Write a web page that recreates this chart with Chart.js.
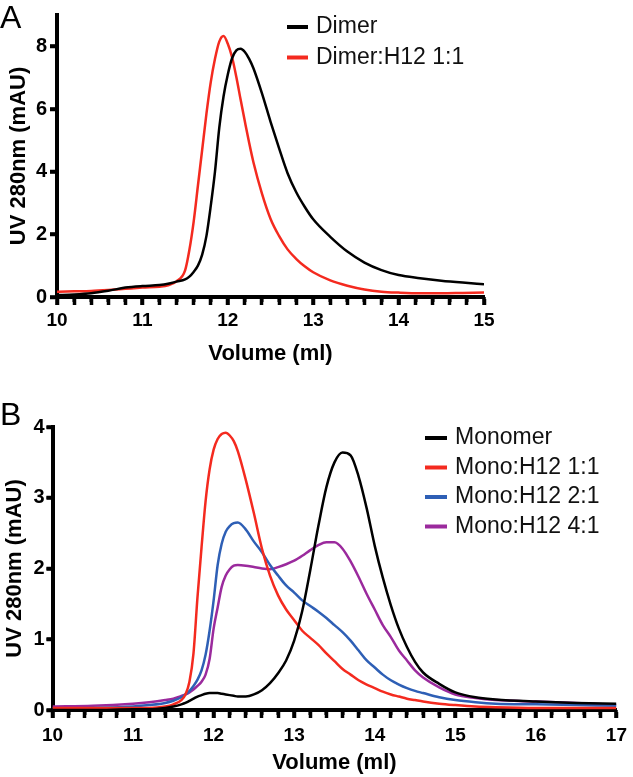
<!DOCTYPE html>
<html>
<head>
<meta charset="utf-8">
<script src="https://cdn.jsdelivr.net/npm/chart.js@4.4.1/dist/chart.umd.min.js"></script>
<style>
  html, body { margin: 0; padding: 0; background: #fff; overflow: hidden; }
  #wrap { position: relative; width: 633px; height: 777px; }
  #panelA { position: absolute; left: 0; top: 0; }
  #panelB { position: absolute; left: 0; top: 380px; }
</style>
</head>
<body>
<div id="wrap">
  <canvas id="panelA" width="633" height="380"></canvas>
  <canvas id="panelB" width="633" height="397"></canvas>
</div>
<script>
// ---- Panel A: dimer ----
const volumeA = [10, 10.2, 10.4, 10.6, 10.8, 11.0, 11.2, 11.3, 11.4, 11.5, 11.55, 11.6, 11.65, 11.7,
  11.75, 11.8, 11.85, 11.9, 11.95, 12.0, 12.05, 12.1, 12.15, 12.2, 12.25, 12.3, 12.4, 12.5, 12.6,
  12.7, 12.8, 12.9, 13.0, 13.2, 13.4, 13.6, 13.8, 14.0, 14.25, 14.5, 14.75, 15.0];
const dimer = [0.06, 0.08, 0.12, 0.2, 0.3, 0.35, 0.38, 0.42, 0.49, 0.56, 0.65, 0.8, 1.0, 1.35,
  1.95, 2.9, 4.0, 5.4, 6.4, 7.1, 7.62, 7.87, 7.92, 7.82, 7.6, 7.3, 6.5, 5.6, 4.75,
  3.95, 3.35, 2.88, 2.48, 1.92, 1.45, 1.1, 0.86, 0.7, 0.6, 0.52, 0.46, 0.41];
const dimerH12 = [0.17, 0.18, 0.19, 0.22, 0.26, 0.3, 0.33, 0.37, 0.5, 0.85, 1.5, 2.4, 3.55, 4.7,
  5.85, 6.85, 7.6, 8.15, 8.33, 8.08, 7.65, 7.02, 6.3, 5.6, 4.92, 4.3, 3.3, 2.5, 1.95,
  1.52, 1.22, 0.98, 0.79, 0.53, 0.36, 0.24, 0.17, 0.14, 0.12, 0.12, 0.13, 0.14];
const labelsA = ["Dimer", "Dimer:H12 1:1"];
const xTicksA = [10, 11, 12, 13, 14, 15];

// ---- Panel B: monomer ----
const volumeB = [10, 10.5, 11, 11.2, 11.4, 11.5, 11.6, 11.65, 11.7, 11.75, 11.8, 11.85, 11.9, 11.95,
  12.0, 12.05, 12.1, 12.15, 12.2, 12.25, 12.3, 12.4, 12.5, 12.6, 12.7, 12.8, 12.9, 13.0, 13.1,
  13.2, 13.3, 13.4, 13.5, 13.6, 13.7, 13.8, 13.9, 14.0, 14.1, 14.2, 14.3, 14.4, 14.5, 14.6,
  14.8, 15.0, 15.25, 15.5, 16.0, 16.5, 17.0];
const monomer = [0, 0, 0.01, 0.01, 0.03, 0.05, 0.08, 0.1, 0.13, 0.16, 0.19, 0.21, 0.23, 0.24,
  0.24, 0.24, 0.23, 0.22, 0.21, 0.2, 0.19, 0.19, 0.22, 0.28, 0.38, 0.52, 0.7, 0.98, 1.4,
  1.98, 2.6, 3.15, 3.5, 3.64, 3.6, 3.3, 2.85, 2.32, 1.87, 1.48, 1.15, 0.89, 0.68, 0.53,
  0.37, 0.25, 0.18, 0.15, 0.12, 0.1, 0.09];
const monoH12_11 = [0.03, 0.03, 0.03, 0.03, 0.05, 0.08, 0.14, 0.22, 0.4, 0.8, 1.6, 2.3, 2.95, 3.4,
  3.68, 3.83, 3.9, 3.92, 3.88, 3.8, 3.66, 3.25, 2.78, 2.28, 1.9, 1.62, 1.42, 1.27, 1.12,
  1.02, 0.92, 0.8, 0.69, 0.58, 0.5, 0.42, 0.36, 0.31, 0.26, 0.22, 0.19, 0.16, 0.14, 0.12,
  0.09, 0.07, 0.05, 0.04, 0.03, 0.03, 0.03];
const monoH12_21 = [0.02, 0.03, 0.05, 0.07, 0.1, 0.13, 0.18, 0.22, 0.27, 0.34, 0.43, 0.56, 0.78, 1.12,
  1.55, 2.05, 2.35, 2.52, 2.6, 2.64, 2.65, 2.55, 2.38, 2.23, 2.05, 1.9, 1.76, 1.66, 1.55,
  1.47, 1.39, 1.3, 1.2, 1.1, 0.98, 0.84, 0.7, 0.6, 0.5, 0.42, 0.36, 0.31, 0.27, 0.24,
  0.18, 0.14, 0.11, 0.09, 0.08, 0.07, 0.06];
const monoH12_41 = [0.05, 0.06, 0.09, 0.11, 0.14, 0.16, 0.2, 0.22, 0.25, 0.29, 0.34, 0.4, 0.5, 0.72,
  1.15, 1.45, 1.74, 1.9, 1.99, 2.04, 2.05, 2.04, 2.02, 2.0, 1.99, 2.02, 2.06, 2.11, 2.18,
  2.26, 2.33, 2.37, 2.37, 2.28, 2.1, 1.88, 1.64, 1.42, 1.2, 1.03, 0.84, 0.7, 0.56, 0.46,
  0.32, 0.22, 0.17, 0.14, 0.12, 0.1, 0.07];
const labelsB = ["Monomer", "Mono:H12 1:1", "Mono:H12 2:1", "Mono:H12 4:1"];
const xTicksB = [10, 11, 12, 13, 14, 15, 16, 17];

const FONT = "'Liberation Sans', Arial, Helvetica, sans-serif";
Chart.defaults.font.family = FONT;
Chart.defaults.color = "#000";

const isMajor = (v, list) => list.some(t => Math.abs(t - v) < 1e-6);

// tick marks: long at labelled volumes, short in between; plain ones on y
const tickMarks = {
  id: "tickMarks",
  afterDraw(chart, args, opts) {
    const { x, y } = chart.scales;
    const ctx = chart.ctx;
    ctx.save();
    ctx.strokeStyle = "#000";
    x.ticks.forEach(t => {
      const major = isMajor(t.value, opts.major);
      const px = Math.round(x.getPixelForValue(t.value));
      ctx.lineWidth = major ? 3.5 : 3;
      ctx.beginPath();
      ctx.moveTo(px, x.top);
      ctx.lineTo(px, x.top + (major ? 8 : 5));
      ctx.stroke();
    });
    ctx.lineWidth = 3.5;
    y.ticks.forEach(t => {
      const py = Math.round(y.getPixelForValue(t.value));
      ctx.beginPath();
      ctx.moveTo(y.right, py);
      ctx.lineTo(y.right - opts.yLen, py);
      ctx.stroke();
    });
    ctx.restore();
  }
};

// legend inside the plot + panel letter
const panelLegend = {
  id: "panelLegend",
  afterDraw(chart, args, opts) {
    const ctx = chart.ctx;
    ctx.save();
    ctx.font = "23px " + FONT;
    ctx.textBaseline = "middle";
    chart.data.datasets.forEach((ds, i) => {
      const rowY = opts.top + i * opts.gap;
      ctx.strokeStyle = ds.borderColor;
      ctx.lineWidth = 4;
      ctx.beginPath();
      ctx.moveTo(opts.left, rowY);
      ctx.lineTo(opts.left + opts.len, rowY);
      ctx.stroke();
      ctx.fillStyle = "#111";
      ctx.fillText(ds.label, opts.left + opts.len + 8, rowY);
    });
    ctx.font = "32px " + FONT;
    ctx.textBaseline = "alphabetic";
    ctx.fillStyle = "#000";
    ctx.fillText(opts.letter, 0, opts.letterY);
    ctx.restore();
  }
};

function makeChart(id, cfg) {
  return new Chart(document.getElementById(id), {
    type: "line",
    data: {
      datasets: cfg.series.map((s, i) => ({
        label: cfg.labels[i],
        data: cfg.volume.map((v, j) => ({ x: v, y: s[j] })),
        borderColor: cfg.colors[i],
        borderWidth: 2.5,
        pointRadius: 0,
        cubicInterpolationMode: "monotone"
      }))
    },
    options: {
      responsive: false,
      animation: false,
      layout: { padding: cfg.padding },
      plugins: {
        legend: { display: false },
        tooltip: { enabled: false },
        tickMarks: { major: cfg.xTicks, yLen: cfg.yTickLen },
        panelLegend: cfg.legend
      },
      scales: {
        x: {
          type: "linear",
          min: cfg.xTicks[0],
          max: cfg.xTicks[cfg.xTicks.length - 1],
          afterFit: s => { s.height = cfg.xHeight; },
          ticks: {
            stepSize: 0.2,
            autoSkip: false,
            maxRotation: 0,
            padding: cfg.xTickPad,
            font: { size: 19, weight: "bold" },
            callback: v => isMajor(v, cfg.xTicks) ? String(Math.round(v)) : ""
          },
          grid: { drawOnChartArea: false, tickLength: 8, tickWidth: 3.5, tickColor: "#000" },
          border: { color: "#000", width: 4 },
          title: {
            display: true,
            text: "Volume (ml)",
            font: { size: 22, weight: "bold" },
            padding: cfg.xTitlePad
          }
        },
        y: {
          min: 0,
          max: cfg.yMax,
          afterFit: s => { s.width = cfg.yWidth; },
          ticks: {
            stepSize: cfg.yStep,
            includeBounds: false,
            padding: cfg.yTickPad,
            font: { size: 20, weight: "bold" }
          },
          grid: { drawOnChartArea: false, tickLength: cfg.yTickLen, tickWidth: 3.5, tickColor: "#000" },
          border: { color: "#000", width: 4 },
          title: {
            display: true,
            text: "UV 280nm (mAU)",
            font: { size: 22, weight: "bold" },
            padding: cfg.yTitlePad
          }
        }
      }
    },
    plugins: [tickMarks, panelLegend]
  });
}

const chartA = makeChart("panelA", {
  volume: volumeA,
  series: [dimer, dimerH12],
  labels: labelsA,
  colors: ["#000000", "#f42a1f"],
  xTicks: xTicksA,
  yMax: 9, yStep: 2,
  padding: { left: 0, top: 14, right: 149, bottom: 11 },
  xHeight: 72, xTickPad: 4, xTitlePad: 2,
  yWidth: 57, yTickLen: 7, yTickPad: 3, yTitlePad: 6,
  legend: { left: 287, top: 27, gap: 30.5, len: 21, letter: "A", letterY: 28 }
});

const chartB = makeChart("panelB", {
  volume: volumeB,
  series: [monomer, monoH12_11, monoH12_21, monoH12_41],
  labels: labelsB,
  colors: ["#000000", "#f42a1f", "#2e5fb5", "#9b2a9d"],
  xTicks: xTicksB,
  yMax: 4, yStep: 1,
  padding: { left: 0, top: 47, right: 12, bottom: 1 },
  xHeight: 66, xTickPad: 6, xTitlePad: 0,
  yWidth: 52.5, yTickLen: 6, yTickPad: 2, yTitlePad: 2,
  legend: { left: 425, top: 58, gap: 29.5, len: 22, letter: "B", letterY: 45 }
});
</script>
</body>
</html>
